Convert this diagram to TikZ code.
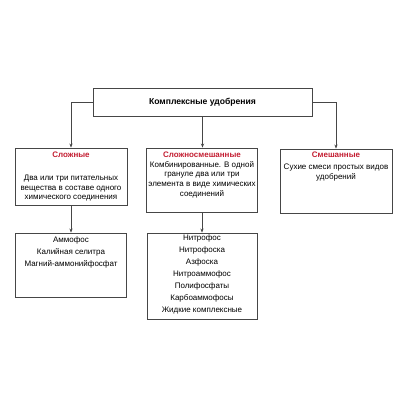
\documentclass[tikz,border=0pt]{standalone}
\usepackage{fontspec}
\setmainfont{Liberation Sans}
\usetikzlibrary{arrows.meta}
\definecolor{hdr}{RGB}{196,30,50}
\definecolor{ln}{RGB}{70,70,70}
\tikzset{
  box/.style={draw=ln, line width=0.9pt, fill=white, inner sep=0pt},
  txt/.style={anchor=north, inner sep=0pt, align=center, font=\fontsize{8}{9.6}\selectfont},
  txtlow/.style={anchor=north, inner sep=0pt, align=center, font=\fontsize{8}{12}\selectfont},
  head/.style={font=\bfseries\fontsize{8}{9.6}\selectfont, text=hdr},
  arr/.style={draw=ln, line width=0.8pt, -{Stealth[length=4pt,width=3.2pt]}}
}
\begin{document}
\begin{tikzpicture}[x=1pt,y=-1pt]
\useasboundingbox[fill=white] (0,0) rectangle (410,410);
% boxes
\node[box, minimum width=219pt, minimum height=28pt] (T) at (202.5,102) {};
\node[box, minimum width=112pt, minimum height=57pt] (L) at (71,176.5) {};
\node[box, minimum width=111pt, minimum height=64pt] (M) at (202,180) {};
\node[box, minimum width=112pt, minimum height=64pt] (R) at (336,181) {};
\node[box, minimum width=111pt, minimum height=64pt] (LL) at (71,265) {};
\node[box, minimum width=110pt, minimum height=86pt] (ML) at (202,276) {};
% texts
\node[inner sep=0pt, font=\bfseries\fontsize{8.6}{10}\selectfont] (Tt) at (T.center) {Комплексные удобрения};
\node[txt] (Lh) at (71,151.5) {\textcolor{hdr}{\bfseries Сложные}};
\node[txt] (Lt) at (71,175) {Два или три питательных\\вещества в составе одного\\химического соединения};
\node[txt] (Mt) at (202,152) {\textcolor{hdr}{\bfseries Сложносмешанные}\\Комбинированные. В одной\\грануле два или три\\элемента в виде химических\\соединений};
\node[txt] (Rt) at (336,151.5) {\textcolor{hdr}{\bfseries Смешанные}\\[3pt]Сухие смеси простых видов\\удобрений};
\node[txtlow] (LLt) at (71,236) {Аммофос\\Калийная селитра\\Магний-аммонийфосфат};
\node[txtlow] (MLt) at (202,234) {Нитрофос\\Нитрофоска\\Азфоска\\Нитроаммофос\\Полифосфаты\\Карбоаммофосы\\Жидкие комплексные};
% connectors
\draw[arr] (T.west) -| (L.north);
\draw[arr] (T.east) -| (R.north);
\draw[arr] (T.south) -- (T.south |- M.north);
\draw[arr] (L.south) -- (LL.north);
\draw[arr] (M.south) -- (M.south |- ML.north);
\end{tikzpicture}
\end{document}
